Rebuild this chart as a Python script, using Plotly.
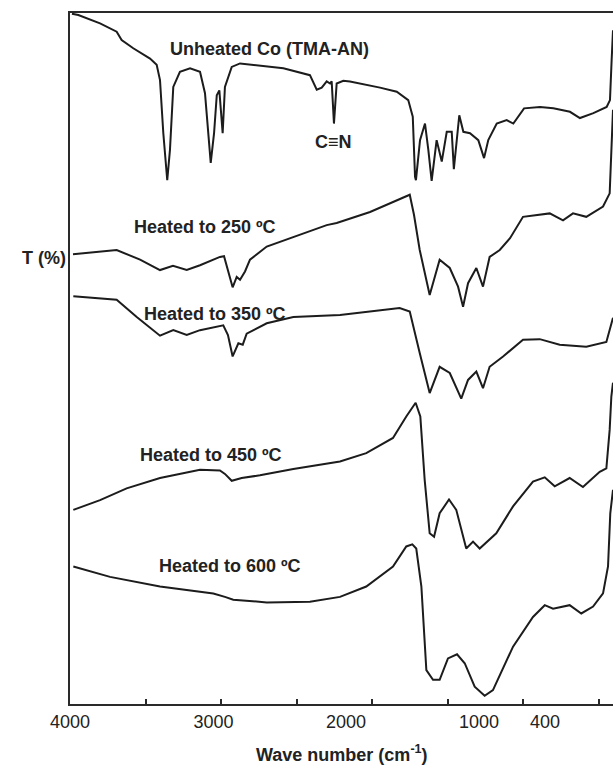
import plotly.graph_objects as go

# ---- data (wavenumber cm-1, transmittance in arbitrary offset % units) ----
wn_unheated = [3987, 3945, 3801, 3691, 3658, 3581, 3470, 3426, 3404, 3382, 3356, 3338, 3316, 3272,
               3205, 3139, 3106, 3068, 3046, 3028, 3011, 2989, 2974, 2929, 2874, 2587, 2411, 2366,
               2333, 2300, 2278, 2267, 2252, 2234, 2190, 2146, 1947, 1836, 1760, 1730, 1715, 1709,
               1682, 1649, 1627, 1605, 1572, 1538, 1505, 1472, 1458, 1422, 1395, 1351, 1296, 1258,
               1230, 1174, 1108, 1064, 993, 887, 799, 689, 623, 534, 446, 424, 413, 404]
t_unheated = [99.9, 99.7, 98.5, 97.3, 96.1, 94.9, 93.4, 92.5, 90.3, 82.6, 75.8, 80.2, 89.3, 91.5,
              92.0, 91.5, 88.4, 78.3, 82.6, 88.1, 88.8, 82.6, 89.3, 92.2, 92.7, 92.0, 91.0, 88.9,
              89.2, 90.1, 89.8, 90.1, 84.0, 89.8, 90.2, 90.1, 89.2, 88.6, 87.4, 85.0, 76.3, 75.8,
              81.6, 84.0, 80.2, 75.7, 81.6, 78.5, 82.8, 82.8, 77.4, 85.2, 82.8, 82.6, 81.6, 79.0,
              81.6, 84.0, 84.5, 84.0, 86.2, 86.4, 86.2, 85.7, 84.8, 85.5, 86.4, 87.4, 93.2, 97.5]

wn_250 = [3980, 3691, 3536, 3404, 3318, 3227, 3139, 3007, 2980, 2954, 2923, 2896, 2874, 2841,
          2808, 2697, 2523, 2300, 2234, 2013, 1750, 1722, 1684, 1618, 1552, 1485, 1430, 1397,
          1364, 1309, 1265, 1221, 1154, 1086, 1000, 823, 735, 669, 581, 470, 426, 414, 404]
t_250 = [65.1, 65.7, 64.3, 62.8, 63.4, 62.8, 63.5, 64.7, 64.8, 62.8, 60.3, 61.8, 61.4, 62.6,
         64.3, 66.2, 67.6, 69.3, 69.6, 71.2, 73.7, 70.8, 65.7, 59.2, 64.3, 63.1, 60.4, 57.5,
         60.9, 63.1, 60.4, 64.7, 65.7, 67.4, 70.5, 71.0, 70.0, 71.0, 70.5, 72.0, 73.9, 80.2, 86.0]

wn_350 = [3978, 3691, 3558, 3404, 3316, 3227, 3139, 2985, 2954, 2923, 2885, 2856, 2830, 2697,
          2521, 2212, 1817, 1750, 1684, 1618, 1552, 1485, 1409, 1364, 1309, 1265, 1221, 1132,
          1000, 889, 757, 581, 448, 404]
t_350 = [59.0, 58.5, 56.0, 53.3, 54.1, 53.4, 54.1, 54.8, 53.4, 50.3, 52.2, 52.0, 53.6, 55.1,
         56.0, 56.3, 57.3, 56.8, 50.8, 45.0, 48.8, 47.9, 44.2, 46.9, 48.1, 45.7, 48.8, 50.3,
         52.7, 52.8, 52.0, 51.7, 52.4, 55.9]

wn_450 = [3978, 3801, 3625, 3404, 3139, 3007, 2974, 2929, 2863, 2742, 2521, 2212, 2038, 1861,
          1773, 1711, 1680, 1651, 1618, 1589, 1552, 1490, 1442, 1376, 1331, 1287, 1177, 1066,
          934, 856, 790, 691, 603, 492, 448, 426, 415, 404]
t_450 = [28.1, 29.5, 31.2, 32.7, 33.9, 33.8, 33.3, 32.3, 32.7, 33.1, 34.0, 35.1, 36.3, 38.5,
         41.6, 43.6, 41.6, 32.4, 24.7, 24.2, 27.6, 29.6, 28.1, 22.5, 23.5, 22.5, 24.7, 28.6,
         32.2, 32.8, 31.5, 32.7, 31.4, 33.6, 34.1, 39.7, 44.5, 46.5]

wn_600 = [3978, 3735, 3404, 3051, 2974, 2919, 2697, 2521, 2411, 2212, 2038, 1861, 1773, 1733,
          1707, 1673, 1640, 1596, 1552, 1497, 1437, 1386, 1320, 1254, 1199, 1066, 934, 856,
          801, 691, 614, 536, 470, 437, 422, 404]
t_600 = [19.9, 18.4, 17.0, 16.0, 15.5, 15.1, 14.7, 14.7, 14.8, 15.5, 17.0, 19.9, 22.8, 23.1,
         22.5, 17.0, 4.9, 3.5, 3.5, 6.6, 7.2, 5.9, 2.5, 1.2, 2.0, 8.3, 12.6, 14.3,
         13.8, 14.3, 13.1, 14.1, 16.0, 19.9, 27.6, 31.0]

series_names = ["Unheated Co (TMA-AN)", "Heated to 250 ºC", "Heated to 350 ºC",
                "Heated to 450 ºC", "Heated to 600 ºC"]

# tick labels as printed in the source figure (their printed positions on the wavenumber scale)
tick_text = ["4000", "3000", "2000", "1000", "400"]
tick_pos = [4000, 3050, 2172, 1291, 854]
tick_marks = [3500, 3000, 2500, 2000, 1500, 1000, 500]

FONT = "Liberation Sans, Arial, Helvetica, sans-serif"
LINE = "#1c1c1c"
FS = 18

fig = go.Figure()
for xs, ys, nm in zip([wn_unheated, wn_250, wn_350, wn_450, wn_600],
                      [t_unheated, t_250, t_350, t_450, t_600], series_names):
    fig.add_trace(go.Scatter(x=xs, y=ys, mode="lines", name=nm,
                             line=dict(color=LINE, width=2), showlegend=False))

labels = [
    ("<b>Unheated Co (TMA-AN)</b>", 2682, 94.8),
    ("<b>C≡N</b>", 2258, 81.4),
    ("<b>Heated to 250 ºC</b>", 3108, 69.1),
    ("<b>Heated to 350 ºC</b>", 3042, 56.5),
    ("<b>Heated to 450 ºC</b>", 3064, 36.1),
    ("<b>Heated to 600 ºC</b>", 2940, 19.9),
]
for txt, x, y in labels:
    fig.add_annotation(x=x, y=y, xref="x", yref="y", text=txt, showarrow=False,
                       font=dict(family=FONT, size=FS, color="#222"),
                       xanchor="center", yanchor="middle")

fig.add_annotation(x=-0.004, y=0.645, xref="paper", yref="paper", text="<b>T (%)</b>",
                   showarrow=False, font=dict(family=FONT, size=FS, color="#222"),
                   xanchor="right", yanchor="middle")
fig.add_annotation(x=0.5, y=-0.072, xref="paper", yref="paper",
                   text="<b>Wave number (cm<sup>-1</sup>)</b>",
                   showarrow=False, font=dict(family=FONT, size=FS, color="#222"),
                   xanchor="center", yanchor="middle")

fig.update_layout(
    width=613, height=765,
    margin=dict(l=70, r=0, t=13, b=61),
    paper_bgcolor="white", plot_bgcolor="white",
    xaxis=dict(range=[4000, 404], showgrid=False, zeroline=False,
               showline=True, linecolor="#2a2a2a", linewidth=2, mirror=True,
               tickmode="array", tickvals=tick_pos, ticktext=tick_text,
               ticks="", ticklen=0,
               tickfont=dict(family=FONT, size=FS, color="#222"),
               minor=dict(tickmode="array", tickvals=tick_marks, ticks="inside",
                          ticklen=5, tickwidth=2, tickcolor="#2a2a2a", showgrid=False)),
    yaxis=dict(range=[0, 100], showgrid=False, zeroline=False, showticklabels=False,
               ticks="", showline=True, linecolor="#2a2a2a", linewidth=2),
)

# remove the page's default body margin so the figure fills the window exactly
fig.write_html("out.html",
               config={"displayModeBar": False},
               post_script="document.body.style.margin='0';document.body.style.overflow='hidden';")
